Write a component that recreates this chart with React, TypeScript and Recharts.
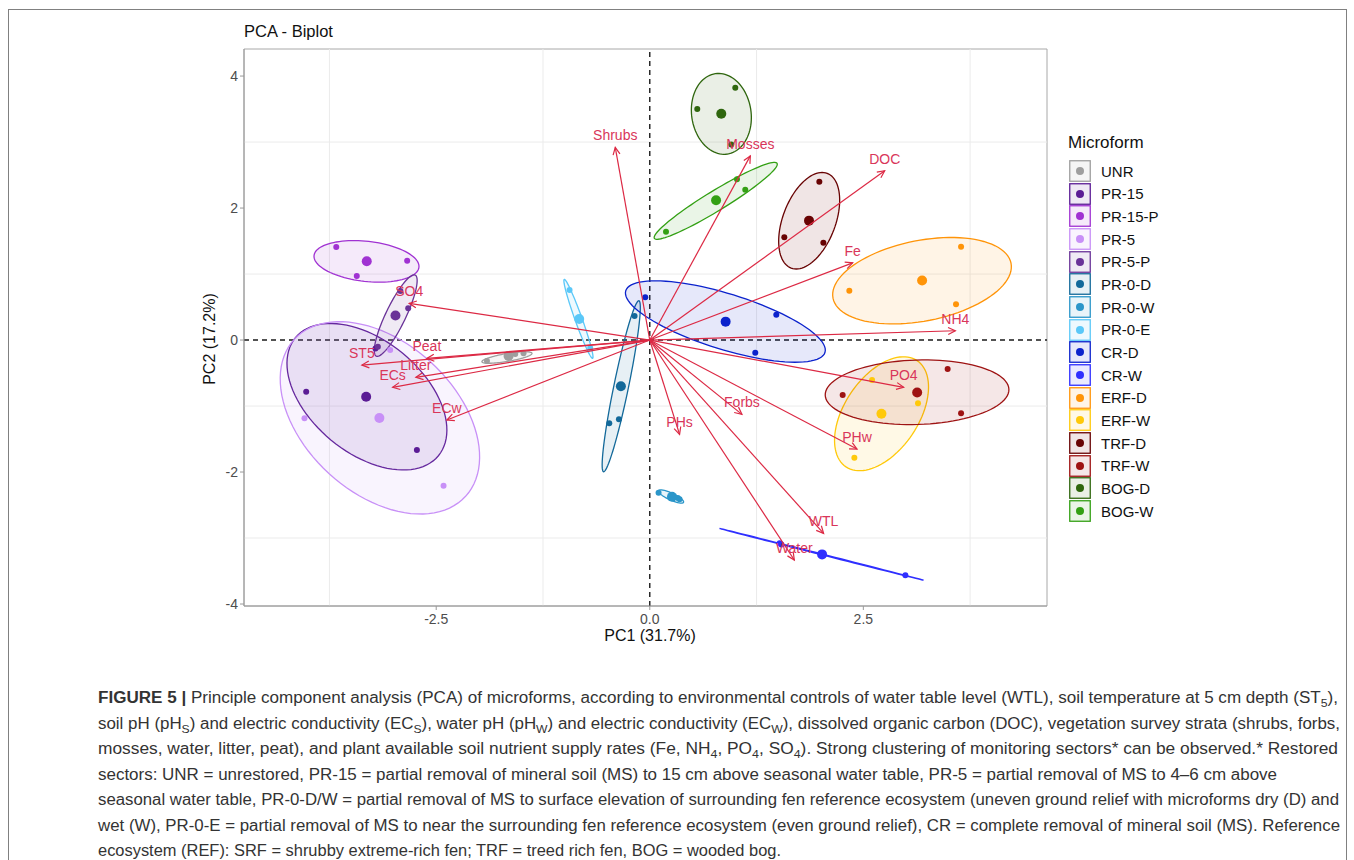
import React from "react";
import {
  ScatterChart,
  Scatter,
  XAxis,
  YAxis,
  ReferenceLine,
  ReferenceArea,
} from "recharts";

// groups (legend order) and their colours
const groups = [
  "UNR", "PR-15", "PR-15-P", "PR-5", "PR-5-P", "PR-0-D", "PR-0-W", "PR-0-E",
  "CR-D", "CR-W", "ERF-D", "ERF-W", "TRF-D", "TRF-W", "BOG-D", "BOG-W",
];
const groupColors = [
  "#9E9E9E", "#5B1C95", "#A032D2", "#C890F7", "#6A3398", "#13699A", "#2B96C9", "#5BC8F8",
  "#0B22CC", "#2F2FFF", "#FF9408", "#FFC90A", "#680303", "#9E1313", "#2F660E", "#33A014",
];

// individual sectors, [PC1, PC2] per group
const groupPoints: number[][][] = [
  [[-1.906, -0.318], [-1.575, -0.21], [-1.478, -0.2]],
  [[-4.022, -0.783], [-2.726, -1.667], [-3.211, -0.127]],
  [[-3.67, 1.41], [-2.84, 1.2], [-3.43, 0.97]],
  [[-4.042, -1.186], [-2.414, -2.208], [-3.039, -0.152]],
  [[-2.828, 0.48], [-2.919, 0.742], [-3.183, -0.102]],
  [[-0.178, 0.364], [-0.474, -1.262], [-0.361, -1.202]],
  [[0.103, -2.314], [0.328, -2.394], [0.349, -2.414]],
  [[-0.939, 0.758], [-0.841, 0.318], [-0.697, -0.121]],
  [[-0.053, 0.647], [1.481, 0.383], [1.235, -0.192]],
  [[1.52, -3.08], [1.54, -3.098], [2.992, -3.565]],
  [[2.336, 0.747], [3.644, 1.414], [3.585, 0.541]],
  [[2.602, -0.606], [3.14, -0.959], [2.395, -1.783]],
  [[1.985, 2.398], [1.575, 1.556], [2.032, 1.474]],
  [[2.258, -0.833], [3.487, -0.439], [3.644, -1.111]],
  [[0.556, 3.5], [1.001, 3.823], [0.954, 2.964]],
  [[0.19, 1.641], [1.021, 2.435], [1.118, 2.277]],
];

// group means (large dots)
const centroidPC1 = [-1.653, -3.32, -3.313, -3.165, -2.977, -0.338, 0.26, -0.826, 0.888, 2.017, 3.188, 2.712, 1.864, 3.13, 0.837, 0.776];
const centroidPC2 = [-0.243, -0.859, 1.193, -1.182, 0.373, -0.7, -2.374, 0.318, 0.279, -3.248, 0.901, -1.116, 1.809, -0.794, 3.429, 2.118];

// confidence ellipses: centre and two conjugate half-axes, data units
const ellCX = [-1.672, -3.311, -3.316, -3.159, -2.974, -0.334, 0.249, -0.835, 0.885, 2.011, 3.187, 2.713, 1.866, 3.129, 0.838, 0.772];
const ellCY = [-0.265, -0.859, 1.192, -1.179, 0.371, -0.7, -2.371, 0.321, 0.28, -3.247, 0.899, -1.117, 1.808, -0.791, 3.427, 2.109];
const ellUX = [0.293, 0.837, 0.614, 1.003, 0.228, 0.207, 0.146, 0.166, 1.166, 1.194, 1.042, 0.416, 0.211, 1.075, 0.071, 0.718];
const ellUY = [0.064, -0.894, -0.089, -1.189, 0.614, 1.295, -0.088, -0.598, -0.467, -0.392, 0.265, 0.805, 0.718, 0.045, -0.609, 0.568];
const ellVX = [0.008, -0.419, -0.026, -0.597, 0.105, 0.084, -0.017, -0.039, -0.096, 0.002, 0.091, 0.36, 0.288, 0.013, -0.344, 0.061];
const ellVY = [-0.059, -0.658, -0.302, -0.843, -0.066, -0.022, -0.048, -0.018, -0.403, 0.006, -0.599, -0.312, -0.141, -0.488, -0.067, -0.129];

// variable loadings (arrows)
const varNames = ["Shrubs", "Mosses", "DOC", "Fe", "NH4", "SO4", "Peat", "ST5", "Litter", "ECs", "ECw", "PO4", "Forbs", "PHs", "PHw", "WTL", "Water"];
const varPC1 = [-0.404, 1.177, 2.75, 2.375, 3.577, -2.816, -2.609, -3.37, -2.738, -3.01, -2.375, 2.972, 1.079, 0.349, 2.426, 2.035, 1.692];
const varPC2 = [2.92, 2.79, 2.565, 1.17, 0.141, 0.556, -0.278, -0.379, -0.566, -0.717, -1.212, -0.717, -1.126, -1.43, -1.652, -2.93, -3.333];

const xTicks = [-2.5, 0, 2.5];
const yTicks = [-4, -2, 0, 2, 4];
const xMinor = [-3.75, -1.25, 1.25, 3.75];
const yMinor = [-3, -1, 1, 3];

const FONT = '"Liberation Sans", Arial, Helvetica, sans-serif';
const RED = "#DC2944";
const LABEL_RED = "#D9365A";

const ellipseOutline = (i: number) => {
  const out: { x: number; y: number }[] = [];
  for (let k = 0; k <= 96; k++) {
    const t = (k / 96) * Math.PI * 2;
    out.push({
      x: ellCX[i] + ellUX[i] * Math.cos(t) + ellVX[i] * Math.sin(t),
      y: ellCY[i] + ellUY[i] * Math.cos(t) + ellVY[i] * Math.sin(t),
    });
  }
  return out;
};

const ellipsePath = (color: string) => (props: any) => {
  const pts = (props.points || []) as { x: number; y: number }[];
  const d = pts.map((p, i) => `${i ? "L" : "M"}${p.x},${p.y}`).join("") + "Z";
  return <path d={d} fill={color} fillOpacity={0.1} stroke={color} strokeWidth={1.3} />;
};

const arrowPath = (props: any) => {
  const pts = (props.points || []) as { x: number; y: number }[];
  if (pts.length < 2) return <g />;
  const [a, b] = pts;
  const ang = Math.atan2(b.y - a.y, b.x - a.x);
  const len = 8;
  const spread = Math.PI / 7;
  const p1x = b.x - len * Math.cos(ang - spread);
  const p1y = b.y - len * Math.sin(ang - spread);
  const p2x = b.x - len * Math.cos(ang + spread);
  const p2y = b.y - len * Math.sin(ang + spread);
  return (
    <g>
      <line x1={a.x} y1={a.y} x2={b.x} y2={b.y} stroke={RED} strokeWidth={1.2} />
      <path d={`M${p1x},${p1y}L${b.x},${b.y}L${p2x},${p2y}`} fill="none" stroke={RED} strokeWidth={1.2} />
    </g>
  );
};

const noShape = () => <g />;

const captionLines: [string, string][][] = [
  [["FIGURE 5", "b"], [" | ", "bar"], ["Principle component analysis (PCA) of microforms, according to environmental controls of water table level (WTL), soil temperature at 5 cm depth (ST", ""], ["5", "sub"], ["),", ""]],
  [["soil pH (pH", ""], ["S", "sub"], [") and electric conductivity (EC", ""], ["S", "sub"], ["), water pH (pH", ""], ["W", "sub"], [") and electric conductivity (EC", ""], ["W", "sub"], ["), dissolved organic carbon (DOC), vegetation survey strata (shrubs, forbs,", ""]],
  [["mosses, water, litter, peat), and plant available soil nutrient supply rates (Fe, NH", ""], ["4", "sub"], [", PO", ""], ["4", "sub"], [", SO", ""], ["4", "sub"], ["). Strong clustering of monitoring sectors* can be observed.* Restored", ""]],
  [["sectors: UNR = unrestored, PR-15 = partial removal of mineral soil (MS) to 15 cm above seasonal water table, PR-5 = partial removal of MS to 4–6 cm above", ""]],
  [["seasonal water table, PR-0-D/W = partial removal of MS to surface elevation of surrounding fen reference ecosystem (uneven ground relief with microforms dry (D) and", ""]],
  [["wet (W), PR-0-E = partial removal of MS to near the surrounding fen reference ecosystem (even ground relief), CR = complete removal of mineral soil (MS). Reference", ""]],
  [["ecosystem (REF): SRF = shrubby extreme-rich fen; TRF = treed rich fen, BOG = wooded bog.", ""]],
];
const captionWidths = [1240, 1242, 1240, 1179, 1241, 1242, 683];

export default function App() {
  const varData = varNames.map((n, i) => ({ name: n, x: varPC1[i], y: varPC2[i] }));
  const centroidData = groups.map((g, i) => ({ name: g, x: centroidPC1[i], y: centroidPC2[i], color: groupColors[i] }));

  return (
    <div style={{ position: "absolute", left: 0, top: 0, width: 1354, height: 860, background: "#fff", fontFamily: FONT, overflow: "hidden" }}>
      <div style={{ position: "absolute", left: 8, top: 9, width: 1337, height: 900, border: "1px solid #808080" }} />

      <div style={{ position: "absolute", left: 244, top: 22, fontSize: 16.5, color: "#111" }}>PCA - Biplot</div>

      <div style={{ position: "absolute", left: 0, top: 0 }}>
        <ScatterChart width={1060} height={660} margin={{ top: 49, right: 13, bottom: 24, left: 214 }}>
          <XAxis
            type="number"
            dataKey="x"
            domain={[-4.75, 4.65]}
            allowDataOverflow
            ticks={xTicks}
            tickFormatter={(v: number) => v.toFixed(1)}
            height={30}
            stroke="#9a9a9a"
            tickSize={4}
            tickMargin={4}
            tick={{ fill: "#4d4d4d", fontSize: 14, fontFamily: FONT }}
          />
          <YAxis
            type="number"
            dataKey="y"
            domain={[-4.03, 4.41]}
            allowDataOverflow
            ticks={yTicks}
            width={30}
            stroke="#9a9a9a"
            tickSize={4}
            tickMargin={2}
            tick={{ fill: "#4d4d4d", fontSize: 14, fontFamily: FONT }}
          />
          {xMinor.map((v) => (
            <ReferenceLine key={`gx${v}`} x={v} stroke="#ebebeb" strokeWidth={1} />
          ))}
          {yMinor.map((v) => (
            <ReferenceLine key={`gy${v}`} y={v} stroke="#ebebeb" strokeWidth={1} />
          ))}
          <ReferenceArea x1={-4.75} x2={4.65} y1={-4.03} y2={4.41} fill="none" stroke="#a8a8a8" strokeWidth={1} />
          <ReferenceLine x={0} stroke="#1a1a1a" strokeDasharray="5 4" strokeWidth={1.4} />
          <ReferenceLine y={0} stroke="#1a1a1a" strokeDasharray="5 4" strokeWidth={1.4} />

          {groups.map((g, i) => (
            <Scatter
              key={`ell-${g}`}
              data={ellipseOutline(i)}
              line={ellipsePath(groupColors[i])}
              lineType="joint"
              shape={noShape}
              isAnimationActive={false}
            />
          ))}

          {groups.map((g, i) => (
            <Scatter
              key={`pts-${g}`}
              data={groupPoints[i].map(([x, y]) => ({ x, y }))}
              shape={(p: any) => <circle cx={p.cx} cy={p.cy} r={3} fill={groupColors[i]} />}
              isAnimationActive={false}
            />
          ))}

          <Scatter
            data={centroidData}
            shape={(p: any) => <circle cx={p.cx} cy={p.cy} r={5} fill={p.payload.color} />}
            isAnimationActive={false}
          />

          {varData.map((v) => (
            <Scatter
              key={`arrow-${v.name}`}
              data={[{ x: 0, y: 0 }, { x: v.x, y: v.y }]}
              line={arrowPath}
              lineType="joint"
              shape={noShape}
              isAnimationActive={false}
            />
          ))}

          <Scatter
            data={varData}
            shape={(p: any) => (
              <text x={p.cx} y={p.cy - 7} textAnchor="middle" fill={LABEL_RED} fontSize={14} fontFamily={FONT}>
                {p.payload.name}
              </text>
            )}
            isAnimationActive={false}
          />
        </ScatterChart>
      </div>

      <div style={{ position: "absolute", left: 550, top: 627, width: 200, textAlign: "center", fontSize: 16, color: "#111" }}>
        PC1 (31.7%)
      </div>
      <div
        style={{
          position: "absolute",
          left: 110,
          top: 330,
          width: 200,
          textAlign: "center",
          fontSize: 16,
          color: "#111",
          transform: "rotate(-90deg)",
        }}
      >
        PC2 (17.2%)
      </div>

      <div style={{ position: "absolute", left: 1068, top: 133, fontSize: 17, color: "#111" }}>Microform</div>
      {groups.map((g, i) => (
        <div key={`leg-${g}`} style={{ position: "absolute", left: 1069, top: 160 + i * 22.67, height: 22, display: "flex", alignItems: "center" }}>
          <svg width={22} height={22}>
            <rect x={0.75} y={0.75} width={20.5} height={20.5} fill={groupColors[i]} fillOpacity={0.1} stroke={groupColors[i]} strokeWidth={1.3} />
            <circle cx={11} cy={11} r={4} fill={groupColors[i]} />
          </svg>
          <span style={{ marginLeft: 10, fontSize: 15, color: "#111" }}>{g}</span>
        </div>
      ))}

      <svg style={{ position: "absolute", left: 0, top: 0 }} width={1354} height={860}>
        {captionLines.map((line, li) => (
          <text
            key={`cap${li}`}
            x={98}
            y={703 + li * 25.5}
            fontSize={16}
            fontFamily={FONT}
            fill="#333"
            textLength={captionWidths[li]}
            lengthAdjust="spacingAndGlyphs"
          >
            {line.map(([t, s], k) =>
              s === "sub" ? (
                <tspan key={k} fontSize={11.5} dy={4}>{t}</tspan>
              ) : (
                <tspan
                  key={k}
                  fontWeight={s === "b" || s === "bar" ? "bold" : "normal"}
                  dy={k > 0 && line[k - 1][1] === "sub" ? -4 : 0}
                >
                  {t}
                </tspan>
              )
            )}
          </text>
        ))}
      </svg>
    </div>
  );
}
